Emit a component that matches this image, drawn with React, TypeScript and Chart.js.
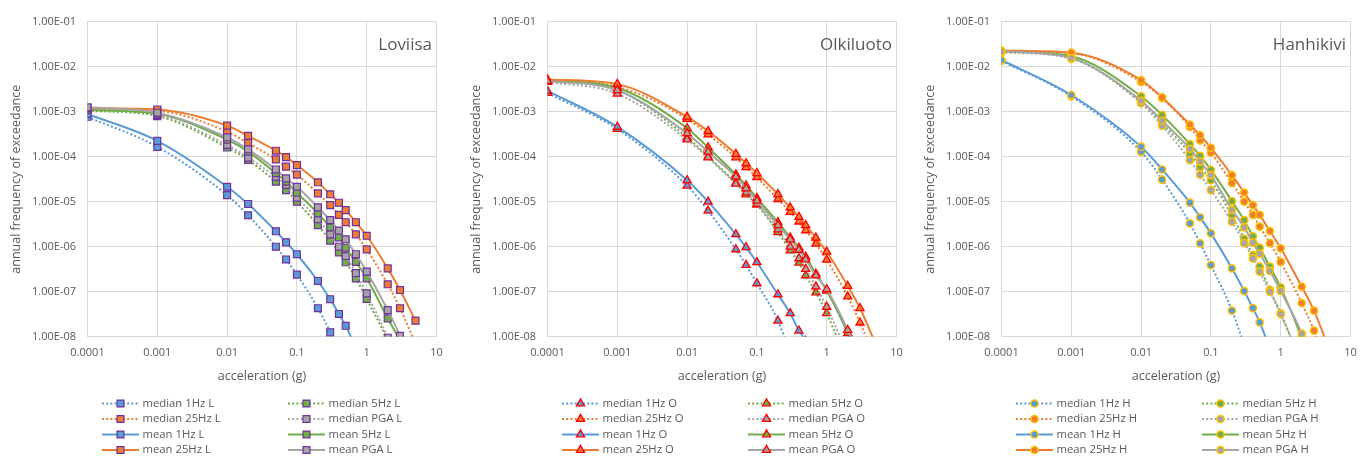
import React, { useEffect, useRef } from "react";
import { Chart, registerables } from "chart.js";

Chart.register(...registerables);

// ---------- shared axes ----------
const xValues = [0.0001, 0.001, 0.01, 0.02, 0.05, 0.07, 0.1, 0.2, 0.3, 0.4, 0.5, 0.7, 1, 2, 3, 5];
const xTickValues = [0.0001, 0.001, 0.01, 0.1, 1, 10];
const xTickLabels = ["0.0001", "0.001", "0.01", "0.1", "1", "10"];
const yTickValues = [1e-8, 1e-7, 1e-6, 1e-5, 1e-4, 1e-3, 1e-2, 1e-1];
const yTickLabels = ["1.00E-08", "1.00E-07", "1.00E-06", "1.00E-05", "1.00E-04", "1.00E-03", "1.00E-02", "1.00E-01"];

const seriesNames = ["median 1Hz", "median 5Hz", "median 25Hz", "median PGA", "mean 1Hz", "mean 5Hz", "mean 25Hz", "mean PGA"];
const seriesColors = ["#5B9BD5", "#70AD47", "#ED7D31", "#A5A5A5", "#5B9BD5", "#70AD47", "#ED7D31", "#A5A5A5"];
const seriesDotted = [true, true, true, true, false, false, false, false];

// ---------- Loviisa ----------
const lovMed1 = [7.7e-4, 1.65e-4, 1.4e-5, 5.0e-6, 1.0e-6, 5.2e-7, 2.4e-7, 4.3e-8, 1.25e-8, 4e-9, 1.5e-9];
const lovMed5 = [1.05e-3, 8.0e-4, 1.6e-4, 8.5e-5, 2.8e-5, 1.8e-5, 1.0e-5, 3.0e-6, 1.36e-6, 7.5e-7, 4.5e-7, 1.98e-7, 6.9e-8, 8e-9, 1.5e-9];
const lovMed25 = [1.15e-3, 1.05e-3, 3.6e-4, 2.0e-4, 8.7e-5, 6.0e-5, 4.0e-5, 1.53e-5, 8.4e-6, 5.1e-6, 3.5e-6, 1.88e-6, 8.7e-7, 1.46e-7, 4.3e-8, 7e-9];
const lovMedPGA = [1.15e-3, 8.5e-4, 1.82e-4, 9.5e-5, 3.6e-5, 2.35e-5, 1.23e-5, 4.1e-6, 1.88e-6, 1.0e-6, 6.2e-7, 2.6e-7, 9.2e-8, 9.5e-9, 2e-9];
const lovMean1 = [8.9e-4, 2.25e-4, 2.15e-5, 8.9e-6, 2.2e-6, 1.25e-6, 6.8e-7, 1.73e-7, 6.8e-8, 3.2e-8, 1.75e-8, 5.5e-9, 1.5e-9];
const lovMean5 = [1.1e-3, 9.0e-4, 2.4e-4, 1.3e-4, 4.3e-5, 2.8e-5, 1.58e-5, 5.5e-6, 2.7e-6, 1.61e-6, 9.5e-7, 4.6e-7, 1.98e-7, 2.55e-8, 8e-9, 1e-9];
const lovMean25 = [1.2e-3, 1.12e-3, 4.9e-4, 2.9e-4, 1.36e-4, 9.8e-5, 6.5e-5, 2.7e-5, 1.46e-5, 9.5e-6, 6.5e-6, 3.5e-6, 1.75e-6, 3.3e-7, 1.09e-7, 2.27e-8];
const lovMeanPGA = [1.25e-3, 9.5e-4, 2.7e-4, 1.46e-4, 5.2e-5, 3.3e-5, 2.15e-5, 7.5e-6, 3.9e-6, 2.27e-6, 1.46e-6, 6.8e-7, 2.8e-7, 3.9e-8, 1.05e-8, 1.5e-9];

// ---------- Olkiluoto ----------
const olkMed1 = [2.6e-3, 4.1e-4, 2.27e-5, 6.3e-6, 8.7e-7, 3.9e-7, 1.53e-7, 2.27e-8, 4e-9, 1e-9];
const olkMed5 = [4.9e-3, 3.0e-3, 2.7e-4, 1.0e-4, 2.6e-5, 1.45e-5, 8.6e-6, 2.1e-6, 8.2e-7, 4.4e-7, 2.3e-7, 9.6e-8, 3.3e-8, 2.5e-9];
const olkMed25 = [5.0e-3, 3.6e-3, 6.9e-4, 3.1e-4, 9.6e-5, 5.8e-5, 3.5e-5, 1.14e-5, 5.9e-6, 3.6e-6, 2.3e-6, 1.16e-6, 5.1e-7, 7.8e-8, 2.05e-8, 3e-9];
const olkMedPGA = [4.6e-3, 2.5e-3, 2.4e-4, 9.6e-5, 2.5e-5, 1.6e-5, 9.0e-6, 2.4e-6, 1.0e-6, 5.5e-7, 3.2e-7, 1.3e-7, 4.6e-8, 4e-9];
const olkMean1 = [2.9e-3, 4.6e-4, 3.0e-5, 1.0e-5, 1.88e-6, 9.7e-7, 4.5e-7, 8.7e-8, 3.3e-8, 1.36e-8, 8e-9, 1.5e-9];
const olkMean5 = [5.0e-3, 3.4e-3, 4.3e-4, 1.6e-4, 4.0e-5, 2.3e-5, 1.2e-5, 3.5e-6, 1.6e-6, 9.5e-7, 6.0e-7, 2.5e-7, 1.05e-7, 1.2e-8, 2.5e-9];
const olkMean25 = [5.2e-3, 4.1e-3, 7.7e-4, 3.7e-4, 1.15e-4, 7.1e-5, 4.3e-5, 1.46e-5, 7.4e-6, 4.6e-6, 3.0e-6, 1.58e-6, 7.7e-7, 1.34e-7, 4.3e-8, 7e-9];
const olkMeanPGA = [4.8e-3, 3.0e-3, 3.3e-4, 1.29e-4, 3.6e-5, 1.97e-5, 1.05e-5, 3.0e-6, 1.45e-6, 8.5e-7, 5.2e-7, 2.3e-7, 1.13e-7, 1.4e-8, 3e-9];

// ---------- Hanhikivi ----------
const hanMed1 = [1.35e-2, 2.2e-3, 1.29e-4, 3.1e-5, 3.3e-6, 1.19e-6, 3.9e-7, 3.8e-8, 6e-9, 1e-9];
const hanMed5 = [2.15e-2, 1.55e-2, 1.6e-3, 5.5e-4, 1.2e-4, 6.0e-5, 3.0e-5, 5.0e-6, 1.5e-6, 6.5e-7, 3.6e-7, 1.1e-7, 3.3e-8, 2.5e-9];
const hanMed25 = [2.2e-2, 2.0e-2, 4.6e-3, 2.0e-3, 4.6e-4, 2.3e-4, 1.23e-4, 2.6e-5, 1.0e-5, 5.1e-6, 2.8e-6, 1.2e-6, 4.6e-7, 5.6e-8, 1.36e-8, 1.5e-9];
const hanMedPGA = [2.1e-2, 1.5e-2, 1.55e-3, 4.9e-4, 8.4e-5, 4.0e-5, 1.8e-5, 3.6e-6, 1.2e-6, 5.5e-7, 2.8e-7, 1.0e-7, 3.2e-8, 2.5e-9];
const hanMean1 = [1.41e-2, 2.35e-3, 1.67e-4, 5.2e-5, 9.5e-6, 4.5e-6, 1.98e-6, 3.3e-7, 1.03e-7, 4.3e-8, 2.08e-8, 5.5e-9];
const hanMean5 = [2.2e-2, 1.7e-2, 2.2e-3, 8.4e-4, 1.91e-4, 1.04e-4, 5.1e-5, 1.03e-5, 3.9e-6, 1.7e-6, 9.5e-7, 3.6e-7, 1.25e-7, 9.5e-9, 1.5e-9];
const hanMean25 = [2.27e-2, 2.05e-2, 5.06e-3, 2.08e-3, 5.2e-4, 3.0e-4, 1.58e-4, 3.9e-5, 1.6e-5, 8.4e-6, 5.1e-6, 2.23e-6, 9.2e-7, 1.29e-7, 3.8e-8, 5e-9];
const hanMeanPGA = [2.2e-2, 1.55e-2, 1.75e-3, 6.3e-4, 1.5e-4, 7.8e-5, 3.9e-5, 6.6e-6, 2.7e-6, 1.23e-6, 7.0e-7, 2.9e-7, 1.04e-7, 1.17e-8, 2e-9];

const TEXT = "#595959";
const GRID = "#D9D9D9";
const FONT = "'Open Sans', 'Liberation Sans', sans-serif";

const CANVAS_W = 454;
const CANVAS_H = 457;

type PanelDef = {
  left: number;
  site: string;
  suffix: string;
  series: number[][];
  pointStyle: "rect" | "triangle" | "circle";
  radius: number;
  markerBorder: string;
  markerBorderWidth: number;
};

const panels: PanelDef[] = [
  {
    left: 0, site: "Loviisa", suffix: "L",
    series: [lovMed1, lovMed5, lovMed25, lovMedPGA, lovMean1, lovMean5, lovMean25, lovMeanPGA],
    pointStyle: "rect", radius: 4.9, markerBorder: "#7030A0", markerBorderWidth: 1.2,
  },
  {
    left: 460, site: "Olkiluoto", suffix: "O",
    series: [olkMed1, olkMed5, olkMed25, olkMedPGA, olkMean1, olkMean5, olkMean25, olkMeanPGA],
    pointStyle: "triangle", radius: 4.7, markerBorder: "#FF0000", markerBorderWidth: 1.3,
  },
  {
    left: 914, site: "Hanhikivi", suffix: "H",
    series: [hanMed1, hanMed5, hanMed25, hanMedPGA, hanMean1, hanMean5, hanMean25, hanMeanPGA],
    pointStyle: "circle", radius: 3.6, markerBorder: "#FFC000", markerBorderWidth: 1.5,
  },
];

function drawMarker(ctx: CanvasRenderingContext2D, style: string, x: number, y: number, r: number) {
  ctx.beginPath();
  if (style === "rect") {
    const s = r * Math.SQRT1_2;
    ctx.rect(x - s, y - s, 2 * s, 2 * s);
  } else if (style === "triangle") {
    let rad = 0;
    ctx.moveTo(x + Math.sin(rad) * r, y - Math.cos(rad) * r);
    rad += (2 * Math.PI) / 3;
    ctx.lineTo(x + Math.sin(rad) * r, y - Math.cos(rad) * r);
    rad += (2 * Math.PI) / 3;
    ctx.lineTo(x + Math.sin(rad) * r, y - Math.cos(rad) * r);
    ctx.closePath();
  } else {
    ctx.arc(x, y, r, 0, Math.PI * 2);
  }
  ctx.fill();
  ctx.stroke();
}

function Panel({ def }: { def: PanelDef }) {
  const ref = useRef<HTMLCanvasElement | null>(null);

  useEffect(() => {
    if (!ref.current) return;
    const datasets = def.series.map((vals, i) => ({
      label: `${seriesNames[i]} ${def.suffix}`,
      data: vals.map((y, k) => ({ x: xValues[k], y })),
      borderColor: seriesColors[i],
      backgroundColor: seriesColors[i],
      borderWidth: 2,
      borderDash: seriesDotted[i] ? [2, 2.2] : [],
      pointStyle: def.pointStyle,
      pointRadius: def.radius,
      pointHoverRadius: def.radius,
      pointBackgroundColor: seriesColors[i],
      pointBorderColor: def.markerBorder,
      pointBorderWidth: def.markerBorderWidth,
      cubicInterpolationMode: "monotone" as const,
      fill: false,
      order: 8 - i,
    }));

    const decor = {
      id: "decor" + def.suffix,
      afterDraw(chart: any) {
        const ctx: CanvasRenderingContext2D = chart.ctx;
        const ca = chart.chartArea;
        ctx.save();
        // site name
        ctx.fillStyle = TEXT;
        ctx.font = `17px ${FONT}`;
        ctx.textAlign = "right";
        ctx.textBaseline = "middle";
        ctx.fillText(def.site, ca.right - 4.5, 45);
        // legend
        ctx.font = `11.3px ${FONT}`;
        ctx.textAlign = "left";
        datasets.forEach((ds, i) => {
          const col = i % 2;
          const row = Math.floor(i / 2);
          const mx = ca.left + (col === 0 ? 33 : 219);
          const my = 403.5 + row * 15.5;
          ctx.strokeStyle = ds.borderColor;
          ctx.lineWidth = 2;
          ctx.setLineDash(ds.borderDash);
          ctx.beginPath();
          ctx.moveTo(mx - 18.5, my);
          ctx.lineTo(mx + 18.5, my);
          ctx.stroke();
          ctx.setLineDash([]);
          ctx.fillStyle = ds.pointBackgroundColor;
          ctx.strokeStyle = def.markerBorder;
          ctx.lineWidth = def.markerBorderWidth;
          drawMarker(ctx, def.pointStyle, mx, my, def.radius);
          ctx.fillStyle = TEXT;
          ctx.fillText(ds.label, mx + 22, my);
        });
        ctx.restore();
      },
    };

    const chart = new Chart(ref.current, {
      type: "line",
      data: { datasets },
      options: {
        animation: false,
        responsive: false,
        devicePixelRatio: 1,
        events: [],
        layout: { padding: { left: 0, right: 17.5, top: 21.7, bottom: 70 } },
        plugins: {
          legend: { display: false },
          tooltip: { enabled: false },
          title: { display: false },
        },
        scales: {
          x: {
            type: "logarithmic",
            min: 0.0001,
            max: 10,
            afterBuildTicks: (scale: any) => {
              scale.ticks = xTickValues.map((v) => ({ value: v }));
            },
            afterFit: (scale: any) => {
              scale.height = 50.3;
            },
            ticks: {
              autoSkip: false,
              maxRotation: 0,
              padding: 10,
              color: TEXT,
              font: { family: FONT, size: 11 },
              callback: (_v: any, idx: number) => xTickLabels[idx],
            },
            grid: { color: GRID, lineWidth: 1, drawTicks: false },
            border: { display: true, color: GRID },
            title: {
              display: true,
              text: "acceleration (g)",
              color: TEXT,
              font: { family: FONT, size: 12.5 },
              padding: { top: 0, bottom: 3.5 },
            },
          },
          y: {
            type: "logarithmic",
            min: 1e-8,
            max: 1e-1,
            afterBuildTicks: (scale: any) => {
              scale.ticks = yTickValues.map((v) => ({ value: v }));
            },
            afterFit: (scale: any) => {
              scale.width = 87.5;
            },
            ticks: {
              autoSkip: false,
              padding: 11.5,
              color: TEXT,
              font: { family: FONT, size: 11 },
              callback: (_v: any, idx: number) => yTickLabels[idx],
            },
            grid: { color: GRID, lineWidth: 1, drawTicks: false },
            border: { display: true, color: GRID },
            title: {
              display: true,
              text: "annual frequency of exceedance",
              color: TEXT,
              font: { family: FONT, size: 12.5 },
              padding: { top: 8.5, bottom: 0 },
            },
          },
        },
      } as any,
      plugins: [decor],
    });
    return () => chart.destroy();
  }, [def]);

  return (
    <div style={{ position: "absolute", left: def.left, top: 0, width: CANVAS_W, height: CANVAS_H }}>
      <canvas ref={ref} width={CANVAS_W} height={CANVAS_H} style={{ display: "block" }} />
    </div>
  );
}

export default function App() {
  return (
    <div style={{ position: "absolute", left: 0, top: 0, width: 1370, height: 457, background: "#fff", overflow: "hidden" }}>
      {panels.map((p) => (
        <Panel key={p.suffix} def={p} />
      ))}
    </div>
  );
}
